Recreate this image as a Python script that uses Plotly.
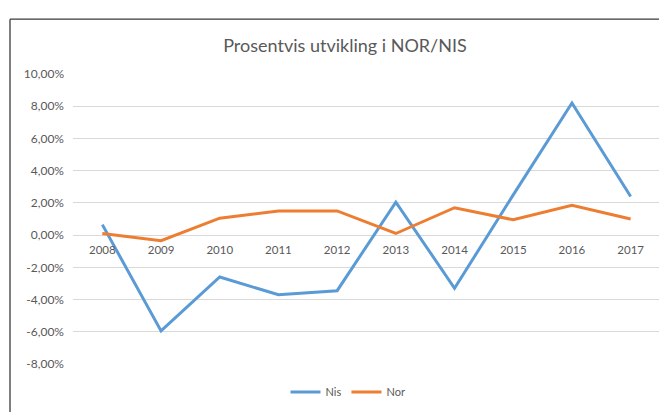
import plotly.graph_objects as go

years = ["2008", "2009", "2010", "2011", "2012", "2013", "2014", "2015", "2016", "2017"]
nis = [0.65, -5.95, -2.6, -3.7, -3.45, 2.05, -3.3, 2.5, 8.2, 2.4]
nor = [0.1, -0.35, 1.05, 1.5, 1.5, 0.1, 1.7, 0.95, 1.85, 1.0]
y_tickvals = [-8, -6, -4, -2, 0, 2, 4, 6, 8, 10]
y_ticktext = ["-8,00%", "-6,00%", "-4,00%", "-2,00%", "0,00%", "2,00%", "4,00%", "6,00%", "8,00%", "10,00%"]

FONT = "Lato"
GRAY = "#595959"
OFF = 8  # page body offset
W, H = 667 - OFF, 412 - OFF

fig = go.Figure()
fig.add_trace(go.Scatter(x=years, y=nis, mode="lines", name="Nis",
                         line=dict(color="#5B9BD5", width=3)))
fig.add_trace(go.Scatter(x=years, y=nor, mode="lines", name="Nor",
                         line=dict(color="#ED7D31", width=3)))

ymin, ymax = -8, 10
bx0 = (10 - 73) / 587
by1 = 1 + (74 - 19) / 291
fig.update_layout(
    width=W, height=H,
    margin=dict(l=73 - OFF, r=667 - 660, t=74 - OFF, b=412 - 365),
    paper_bgcolor="white", plot_bgcolor="white",
    font=dict(family=FONT, color=GRAY, size=11),
    title=dict(text="Prosentvis utvikling i NOR/NIS", x=(345 - OFF) / W, xanchor="center",
               y=1 - (46 - OFF) / H, yanchor="middle",
               font=dict(family=FONT, size=18, color=GRAY)),
    showlegend=True,
    legend=dict(orientation="h", x=(348 - 73) / 587, xanchor="center", y=-0.093, yanchor="middle",
                font=dict(size=11, color=GRAY), bgcolor="rgba(0,0,0,0)",
                itemwidth=30),
    xaxis=dict(type="category", range=[-0.5, 9.5], showgrid=False, showline=False, zeroline=False,
               anchor="free", position=(0 - ymin) / (ymax - ymin),
               ticks="", ticklabelstandoff=6, tickfont=dict(size=11.5, color=GRAY)),
    yaxis=dict(range=[ymin, ymax], tickvals=y_tickvals, ticktext=y_ticktext,
               showgrid=True, gridcolor="#D9D9D9", gridwidth=1,
               zeroline=True, zerolinecolor="#D9D9D9", zerolinewidth=1,
               showline=False, ticks="", ticklabelstandoff=8,
               tickfont=dict(size=12, color=GRAY)),
    shapes=[
        dict(type="line", xref="paper", yref="paper", x0=bx0, x1=bx0, y0=-0.5, y1=by1,
             line=dict(color="#3a3a3a", width=1.3), layer="above"),
        dict(type="line", xref="paper", yref="paper", x0=bx0, x1=1.2, y0=by1, y1=by1,
             line=dict(color="#3a3a3a", width=1.3), layer="above"),
    ],
)

fig.write_html("out.html")
